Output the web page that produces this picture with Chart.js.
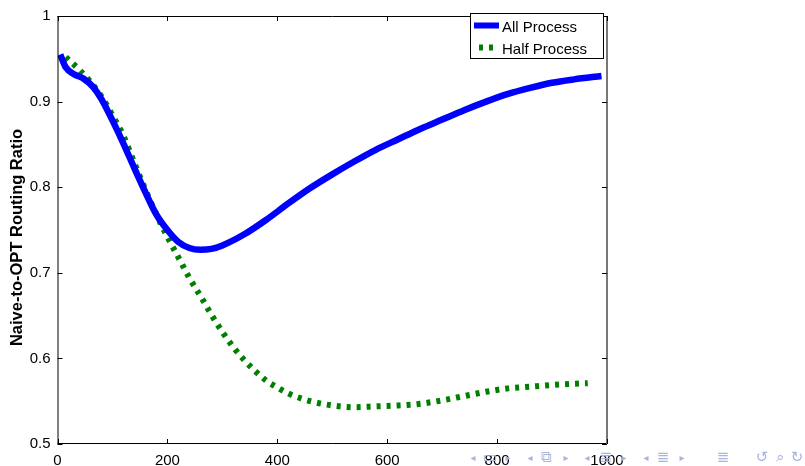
<!DOCTYPE html>
<html>
<head>
<meta charset="utf-8">
<script src="https://cdn.jsdelivr.net/npm/chart.js@4"></script>
<style>
  html, body { margin: 0; padding: 0; background: #fff; }
  #wrap { position: relative; width: 805px; height: 466px; overflow: hidden; }
  #c { position: absolute; left: 0; top: 0; }
  .nav { position: absolute; font-family: "DejaVu Sans", sans-serif; color: #a7b4dc; transform: translate(-50%, -50%); white-space: nowrap; }
</style>
</head>
<body>
<div id="wrap">
<canvas id="c" width="805" height="466"></canvas>
</div>
<script>
// ---- data ----
const seriesNames = ['All Process', 'Half Process'];
const allX = [5, 15, 30, 47, 65, 80, 100, 120, 140, 160, 180, 200, 220, 240, 260, 280, 300, 340, 380, 420, 460, 500, 540, 580, 620, 660, 700, 740, 780, 820, 860, 900, 940, 990];
const allY = [0.955, 0.940, 0.932, 0.927, 0.917, 0.903, 0.878, 0.851, 0.822, 0.794, 0.768, 0.750, 0.736, 0.729, 0.727, 0.728, 0.732, 0.745, 0.762, 0.781, 0.799, 0.815, 0.830, 0.844, 0.856, 0.868, 0.879, 0.890, 0.900, 0.909, 0.916, 0.922, 0.926, 0.930];
const halfX = [15, 20, 40, 60, 80, 100, 120, 140, 160, 180, 200, 220, 240, 260, 280, 300, 320, 340, 360, 380, 400, 420, 440, 460, 500, 540, 580, 620, 660, 700, 740, 780, 820, 860, 900, 965];
const halfY = [0.952, 0.949, 0.937, 0.923, 0.906, 0.884, 0.860, 0.828, 0.797, 0.768, 0.742, 0.718, 0.694, 0.673, 0.651, 0.631, 0.613, 0.598, 0.585, 0.574, 0.566, 0.559, 0.554, 0.550, 0.545, 0.543, 0.544, 0.545, 0.547, 0.551, 0.556, 0.561, 0.565, 0.567, 0.569, 0.571];
const xTicks = [0, 200, 400, 600, 800, 1000];
const yTicks = [0.5, 0.6, 0.7, 0.8, 0.9, 1];
const yTitle = 'Naive-to-OPT Routing Ratio';

const FONT = '"Liberation Sans", Arial, sans-serif';

const frame = {
  id: 'frame',
  afterDraw(chart) {
    const ctx = chart.ctx;
    const a = chart.chartArea;
    const xs = chart.scales.x, ys = chart.scales.y;
    ctx.save();
    ctx.strokeStyle = '#000';
    ctx.lineWidth = 1;
    // box
    ctx.beginPath();
    ctx.moveTo(a.left + 0.5, a.top + 0.5);
    ctx.lineTo(a.right, a.top + 0.5);
    ctx.moveTo(a.left + 0.5, a.top);
    ctx.lineTo(a.left + 0.5, a.bottom);
    ctx.moveTo(a.left, a.bottom - 0.5);
    ctx.lineTo(a.right, a.bottom - 0.5);
    ctx.stroke();
    ctx.strokeStyle = '#777';
    ctx.lineWidth = 2;
    ctx.beginPath();
    ctx.moveTo(a.right, a.top);
    ctx.lineTo(a.right, a.bottom);
    ctx.stroke();
    // inward ticks
    ctx.strokeStyle = '#000';
    ctx.lineWidth = 1;
    ctx.beginPath();
    xTicks.forEach(v => {
      const px = Math.round(xs.getPixelForValue(v)) + 0.5;
      ctx.moveTo(px, a.bottom); ctx.lineTo(px, a.bottom - 5);
      ctx.moveTo(px, a.top); ctx.lineTo(px, a.top + 5);
    });
    yTicks.forEach(v => {
      const py = Math.round(ys.getPixelForValue(v)) + 0.5;
      ctx.moveTo(a.left, py); ctx.lineTo(a.left + 5, py);
      ctx.moveTo(a.right, py); ctx.lineTo(a.right - 5, py);
    });
    ctx.stroke();
    // y title
    ctx.save();
    ctx.translate(17, 237.5);
    ctx.rotate(-Math.PI / 2);
    ctx.fillStyle = '#000';
    ctx.font = 'bold 16.5px ' + FONT;
    ctx.textAlign = 'center';
    ctx.textBaseline = 'middle';
    ctx.fillText(yTitle, 0, 0);
    ctx.restore();
    // legend
    const lx = 470.5, ly = 13.5, lw = 133, lh = 45;
    ctx.fillStyle = '#fff';
    ctx.fillRect(lx, ly, lw, lh);
    ctx.strokeStyle = '#000';
    ctx.lineWidth = 1;
    ctx.strokeRect(lx, ly, lw, lh);
    const ds = chart.data.datasets;
    const rows = [25.5, 47.5];
    ds.forEach((d, i) => {
      ctx.strokeStyle = d.borderColor;
      ctx.lineWidth = 6;
      ctx.setLineDash(d.borderDash || []);
      ctx.lineDashOffset = d.borderDash ? -5 : 0;
      ctx.beginPath();
      ctx.moveTo(474, rows[i]);
      ctx.lineTo(499, rows[i]);
      ctx.stroke();
      ctx.setLineDash([]);
      ctx.fillStyle = '#000';
      ctx.font = '15px ' + FONT;
      ctx.textBaseline = 'middle';
      ctx.textAlign = 'left';
      ctx.fillText(d.label, 502, rows[i] + 2);
    });
    ctx.restore();
  }
};

new Chart(document.getElementById('c'), {
  type: 'line',
  data: {
    datasets: [
      {
        label: seriesNames[0],
        data: allX.map((x, i) => ({ x: x, y: allY[i] })),
        borderColor: '#0000ff',
        borderWidth: 6.5,
        pointRadius: 0,
        cubicInterpolationMode: 'monotone',
        fill: false
      },
      {
        label: seriesNames[1],
        data: halfX.map((x, i) => ({ x: x, y: halfY[i] })),
        borderColor: '#008000',
        borderWidth: 6,
        borderDash: [4, 6],
        borderCapStyle: 'butt',
        pointRadius: 0,
        cubicInterpolationMode: 'monotone',
        fill: false
      }
    ]
  },
  options: {
    responsive: false,
    animation: false,
    layout: { padding: { left: 0, right: 198, top: 10.5, bottom: 0 } },
    plugins: { legend: { display: false }, tooltip: { enabled: false } },
    scales: {
      x: {
        type: 'linear',
        min: 0, max: 1000,
        afterBuildTicks: s => { s.ticks = xTicks.map(v => ({ value: v })); },
        afterFit: s => { s.height = 22; },
        grid: { display: false, drawTicks: false },
        border: { display: false },
        ticks: { color: '#000', font: { family: FONT, size: 15 }, padding: 8, maxRotation: 0,
                 callback: v => String(v) }
      },
      y: {
        type: 'linear',
        min: 0.5, max: 1,
        afterBuildTicks: s => { s.ticks = yTicks.map(v => ({ value: v })); },
        afterFit: s => { s.width = 57.5; },
        grid: { display: false, drawTicks: false },
        border: { display: false },
        ticks: { color: '#000', font: { family: FONT, size: 15 }, padding: 7,
                 callback: v => String(v) }
      }
    }
  },
  plugins: [frame]
});

// beamer navigation symbols (decoration)
const navSyms = [['◂',473,10],['▭',490,15],['▸',508,10],['◂',530,10],['⧉',546,15],['▸',566,10],['◂',587,10],['≣',606,15],['▸',624,10],['◂',646,10],['≣',663,15],['▸',682,10],['≣',723,15],['↺',762,15],['⌕',780,15],['↻',797,15]];
const wrap = document.getElementById('wrap');
navSyms.forEach(([s, x, fs]) => {
  const el = document.createElement('span');
  el.className = 'nav';
  el.style.left = x + 'px';
  el.style.top = '457px';
  el.style.fontSize = fs + 'px';
  el.textContent = s;
  wrap.appendChild(el);
});
</script>
</body>
</html>
